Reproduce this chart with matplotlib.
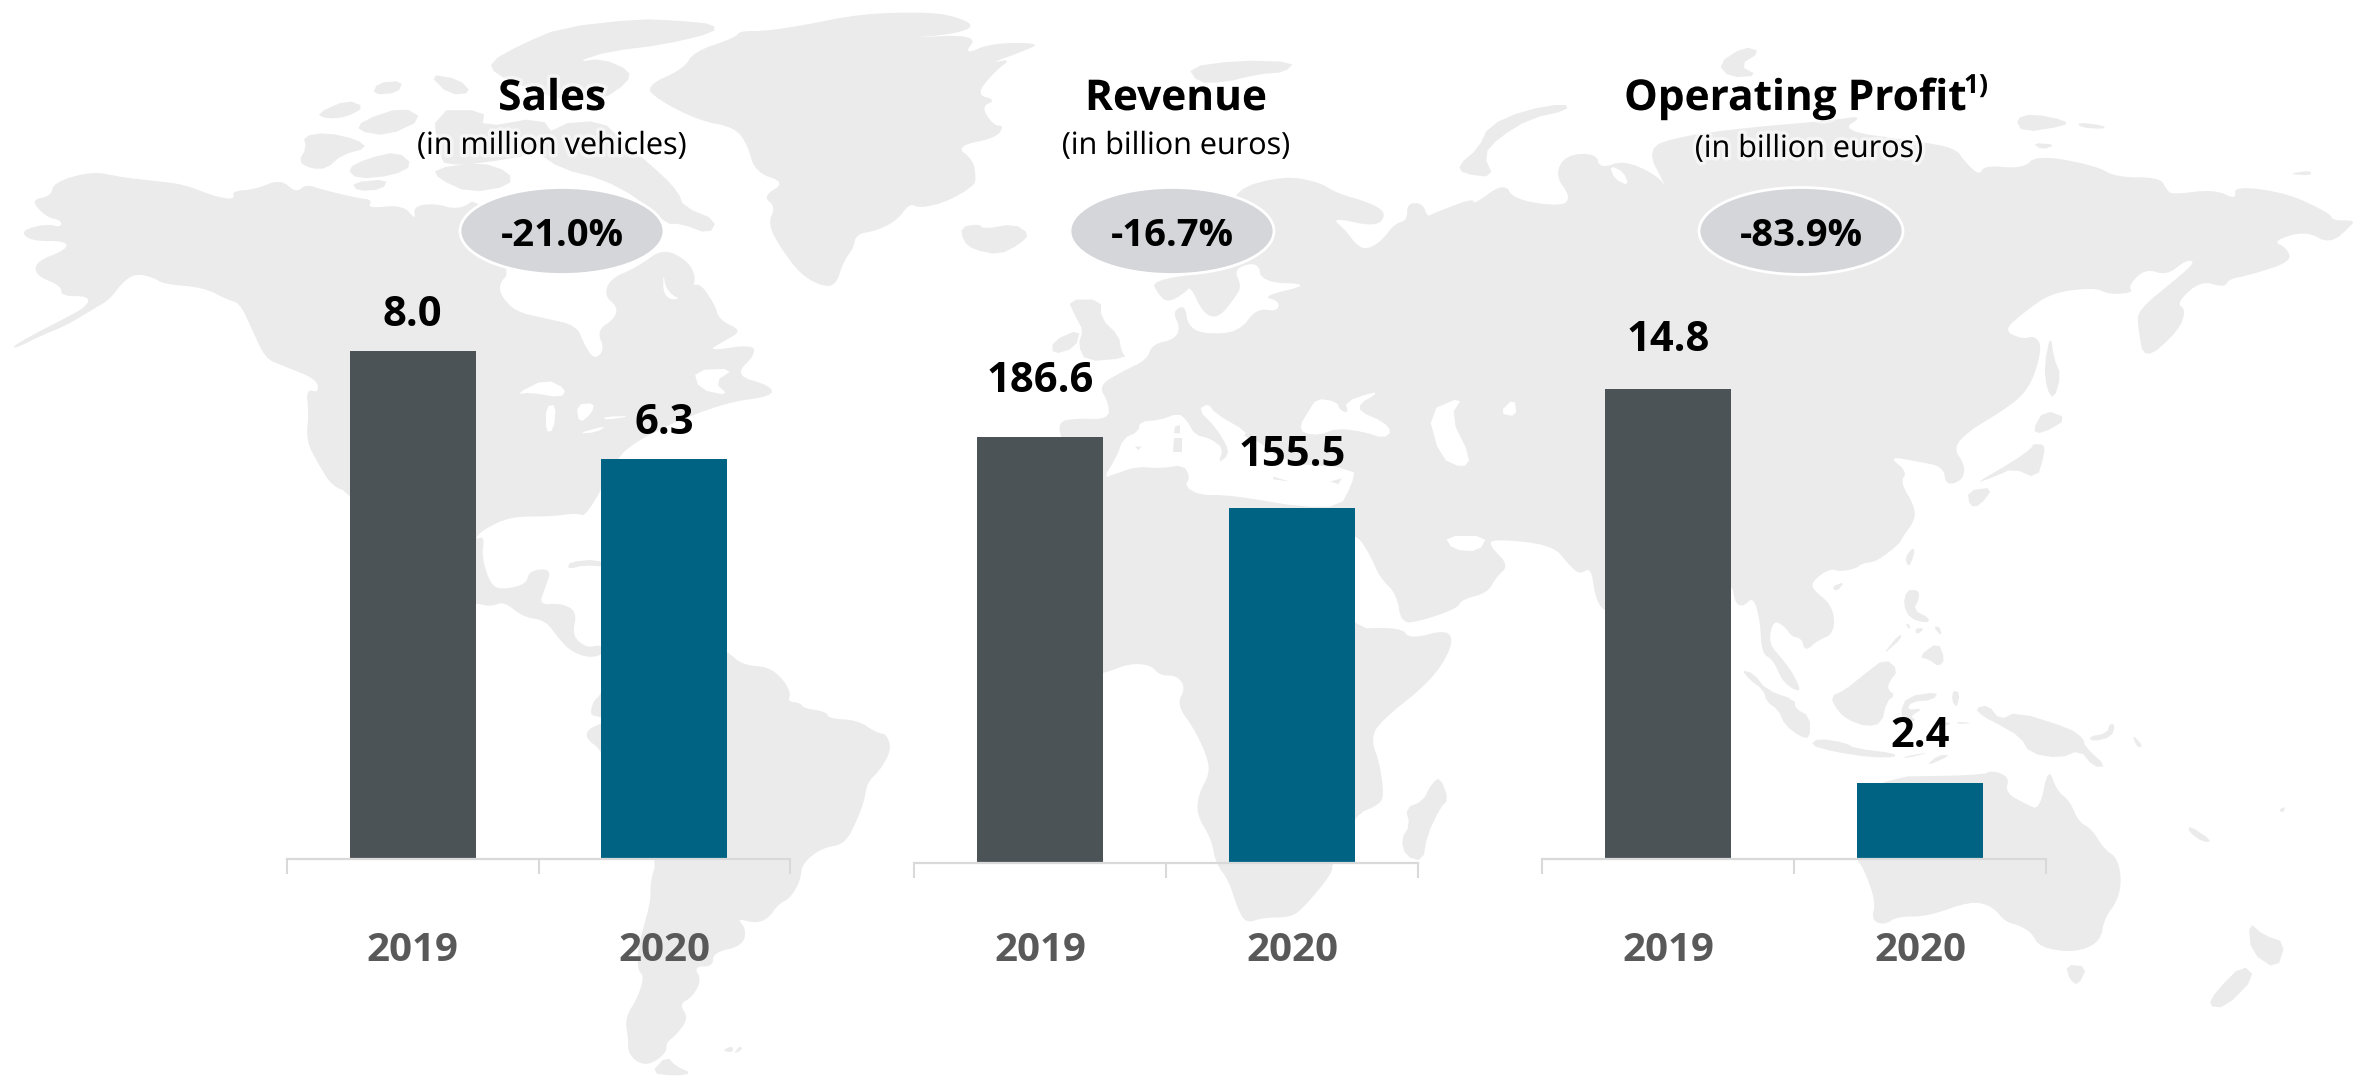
import matplotlib
matplotlib.use("Agg")
import matplotlib.pyplot as plt
import matplotlib.patheffects as pe
from matplotlib.patches import Ellipse, Polygon

W, H = 2353, 1076
FONT = "Open Sans"

# wartosci
years = ["2019", "2020"]
sales = [8.0, 6.3]
revenue = [186.6, 155.5]
profit = [14.8, 2.4]
changes = ["-21.0%", "-16.7%", "-83.9%"]
titles = ["Sales", "Revenue", "Operating Profit"]
subtitles = ["(in million vehicles)", "(in billion euros)", "(in billion euros)"]

GRAY_BAR = "#4c5356"
BLUE_BAR = "#006384"
MAP = "#ebebeb"
AXIS = "#d9d9d9"


# kontury mapy w tle (tylko dekoracja), czytane z powiekszen
def z(x0, y0, sx, sy, pts):
    return [(x0 + x / sx, y0 + y / sy) for x, y in pts]


def z4(pts):
    return z(0, 0, 1.96, 2.904, pts)


def z5(pts):
    return z(0, 536, 1.568, 2.904, pts)


def z6(pts):
    return z(800, 0, 1.96, 2.904, pts)


def z7(pts):
    return z(1600, 0, 2.082, 2.904, pts)


def z8(pts):
    return z(1000, 536, 1.159, 2.904, pts)


def z9(pts):
    return z(1730, 520, 3, 3, pts)


def z10(pts):
    return z(1100, 370, 3, 3, pts)


# wygladzanie rogow konturu
def chaikin(pts, n=1):
    for _ in range(n):
        out = []
        for i in range(len(pts)):
            x1, y1 = pts[i]
            x2, y2 = pts[(i + 1) % len(pts)]
            out.append((0.75 * x1 + 0.25 * x2, 0.75 * y1 + 0.25 * y2))
            out.append((0.25 * x1 + 0.75 * x2, 0.25 * y1 + 0.75 * y2))
        pts = out
    return pts


north_america = z4([
    (100, 570), (105, 530), (180, 497), (240, 515), (300, 525), (360, 535), (420, 570), (460, 580), (455, 555),
    (500, 550), (550, 520), (580, 560), (600, 535), (630, 550), (700, 575), (730, 580), (720, 605), (790, 595),
    (815, 640), (810, 600), (850, 590), (900, 610), (940, 570), (1000, 790), (980, 820), (980, 855), (1010, 905),
    (1070, 925), (1130, 945), (1145, 1000), (1165, 1045), (1185, 1015), (1170, 960), (1205, 925), (1210, 890),
    (1185, 860), (1195, 810), (1250, 775), (1300, 720), (1350, 760), (1365, 810), (1350, 860), (1330, 870),
    (1305, 840), (1300, 790), (1300, 860), (1330, 875), (1365, 810), (1400, 880), (1410, 930), (1455, 960),
    (1420, 990), (1385, 1020), (1475, 1000), (1480, 1030), (1440, 1090), (1510, 1120), (1515, 1150), (1420, 1170),
    (1300, 1240), (1240, 1290), (1210, 1330), (1150, 1500), (1130, 1490), (1080, 1500), (1000, 1500), (945, 1540),
    (930, 1568),
]) + z5([
    (760, 0), (755, 60), (770, 145), (790, 155), (825, 140), (830, 100), (865, 95), (855, 150), (845, 200),
    (880, 195), (905, 220), (897, 290), (920, 325), (942, 315), (950, 340), (925, 355), (895, 335), (875, 295),
    (855, 245), (820, 235), (790, 190), (770, 205), (745, 195), (700, 190),
]) + z4([
    (684, 1430), (650, 1410), (625, 1350), (600, 1280), (605, 1200), (600, 1130), (625, 1140), (620, 1100),
    (550, 1060), (520, 1040), (495, 960), (470, 880), (445, 870), (400, 835), (320, 825), (300, 805), (265, 795),
    (240, 820), (215, 870), (180, 900), (130, 945), (80, 975), (30, 1012), (25, 1005), (80, 960), (120, 930),
    (170, 890), (175, 860), (120, 860), (120, 830), (70, 800), (70, 760), (130, 725), (130, 700), (60, 700),
    (40, 670), (90, 650), (120, 660), (120, 640), (90, 630), (60, 580),
])

arctic_canada = [
    z4([(595, 395), (640, 385), (700, 405), (720, 430), (670, 450), (640, 490), (610, 490), (585, 470), (600, 430)]),
    z4([(680, 490), (720, 460), (780, 440), (810, 480), (770, 510), (700, 520)]),
    z4([(690, 530), (760, 520), (750, 550), (700, 555)]),
    z4([(620, 330), (680, 290), (715, 310), (680, 340), (640, 345)]),
    z4([(710, 350), (790, 310), (830, 345), (760, 395), (700, 380)]),
    z4([(740, 240), (790, 235), (780, 270), (730, 275)]),
    z4([(840, 215), (900, 230), (925, 270), (880, 275)]),
    z4([(850, 320), (950, 320), (945, 370), (1060, 340), (1090, 400), (1040, 450), (960, 470), (900, 480), (860, 470)]),
    z4([(850, 490), (940, 470), (1000, 500), (1000, 540), (920, 560), (860, 520)]),
    z4([(960, 180), (1020, 130), (1100, 80), (1250, 55), (1330, 60), (1400, 70), (1400, 95), (1300, 130), (1190, 150),
        (1130, 180), (1180, 170), (1235, 205), (1230, 240), (1180, 290), (1100, 290), (1040, 260), (970, 215)]),
    z4([(1090, 360), (1180, 350), (1220, 410), (1300, 510), (1330, 560), (1340, 600), (1405, 640), (1390, 680),
        (1335, 650), (1305, 650), (1250, 575), (1180, 520), (1100, 490), (1050, 440)]),
]

greenland = z4([
    (1265, 250), (1340, 200), (1360, 150), (1440, 110), (1450, 90), (1500, 90),
]) + z6([
    (0, 75), (120, 40), (240, 35), (300, 45), (345, 75), (300, 100), (205, 110), (350, 100), (320, 160), (375, 125),
    (470, 125), (445, 145), (370, 185), (415, 170), (380, 210), (345, 275), (385, 290), (355, 310), (380, 365),
    (400, 365), (385, 400), (305, 425), (340, 465), (345, 520), (340, 540), (290, 585), (235, 605), (215, 590),
    (190, 640), (150, 670), (110, 680), (105, 720), (85, 760), (70, 830), (40, 830), (0, 795),
]) + z4([
    (1530, 720), (1505, 650), (1520, 600), (1495, 570), (1540, 530), (1480, 500), (1465, 420), (1440, 370),
    (1370, 350), (1290, 290),
])

eurasia_africa = z6([
    (515, 1290), (505, 1225), (540, 1215), (605, 1218), (605, 1170), (585, 1120), (630, 1080), (680, 1045), (690, 1000),
    (735, 985), (745, 950), (730, 905), (755, 885), (760, 945), (790, 970), (860, 965), (895, 895), (935, 905),
    (940, 875), (905, 860), (1005, 825), (905, 820), (898, 760), (850, 780), (865, 830), (855, 860), (820, 925),
    (790, 910), (765, 830), (755, 850), (720, 880), (700, 850), (690, 815), (800, 790), (850, 640), (850, 550),
    (950, 510), (1020, 530), (1050, 560), (1120, 590), (1150, 620), (1130, 660), (1040, 630), (1070, 670), (1090, 710),
    (1110, 725), (1140, 700), (1165, 650), (1190, 640), (1190, 590), (1220, 590), (1230, 630), (1240, 620), (1320, 575),
    (1320, 595), (1380, 530), (1400, 580), (1495, 600), (1510, 570), (1480, 510), (1500, 450), (1560, 445), (1568, 490),
]) + z7([
    (50, 465), (120, 510), (140, 550), (95, 430), (170, 395), (310, 370), (480, 350), (550, 335), (500, 380),
    (660, 410), (740, 430), (760, 470), (790, 510), (800, 480), (880, 490), (910, 450), (1030, 480), (1075, 515),
    (1165, 515), (1180, 550), (1190, 565), (1280, 550), (1325, 580), (1320, 540), (1430, 560), (1520, 620), (1525, 640),
    (1568, 640), (1568, 650), (1520, 710), (1470, 670), (1400, 700), (1430, 720), (1440, 760), (1350, 800), (1310, 810),
    (1300, 835), (1250, 815), (1200, 880), (1220, 900), (1205, 960), (1133, 1050), (1120, 950), (1120, 900), (1200, 810),
    (1240, 760), (1220, 755), (1180, 800), (1135, 780), (1100, 830), (1110, 850), (1060, 855), (1030, 835), (940, 850),
    (880, 910), (840, 960), (880, 985), (905, 975), (920, 1005), (905, 1090), (880, 1150), (830, 1200), (770, 1250),
    (735, 1300), (760, 1350), (755, 1395), (720, 1410), (715, 1355), (660, 1340), (600, 1325), (640, 1370), (625, 1400),
    (655, 1470),
]) + z9([
    (555, 0), (515, 55), (510, 70), (440, 125), (395, 130), (380, 145), (330, 155), (300, 145), (245, 185), (250, 210),
    (300, 250), (315, 300), (305, 345), (265, 360), (225, 395), (215, 355), (185, 350), (165, 320), (130, 300), (115, 370),
    (160, 420), (195, 470), (215, 520), (160, 490), (130, 420), (95, 400), (90, 300), (70, 230), (40, 260), (15, 250), (5, 185),
]) + z8([
    (800, 100), (720, 220), (700, 220), (690, 180), (685, 90),
    (672, 112), (660, 85), (640, 25), (570, 8), (568, 30), (590, 85), (575, 120), (565, 165), (535, 185), (530, 210),
    (490, 245), (465, 255), (460, 170), (440, 120), (430, 60), (415, 0), (400, 0), (400, 270), (465, 265), (475, 300),
    (520, 270), (525, 320), (500, 420), (440, 540), (430, 590), (440, 660), (445, 750), (440, 780), (411, 810), (385, 950),
    (385, 980), (350, 1085), (335, 1108), (305, 1108), (285, 1125), (275, 1080), (265, 1000), (250, 950), (245, 880),
    (228, 810), (230, 750), (243, 690), (240, 640), (225, 560), (205, 490), (215, 440), (205, 405), (185, 405), (175, 375),
    (150, 370), (120, 400), (100, 400), (100, 100),
])

south_america = z5([
    (1100, 300), (1140, 335), (1165, 375), (1205, 380), (1230, 420), (1240, 460), (1235, 480), (1255, 485), (1260, 500),
    (1295, 510), (1300, 530), (1345, 535), (1375, 572), (1390, 575), (1398, 620), (1380, 680), (1360, 715), (1355, 770),
    (1345, 820), (1325, 895), (1290, 905), (1258, 950), (1255, 1000), (1240, 1050), (1220, 1070), (1205, 1110), (1185, 1125),
    (1155, 1110), (1170, 1140), (1165, 1190), (1118, 1210), (1118, 1250), (1088, 1250), (1100, 1290), (1085, 1340),
    (1065, 1360), (1080, 1400), (1060, 1450), (1045, 1470), (1045, 1500), (1020, 1535), (1000, 1530), (985, 1500),
    (985, 1460), (980, 1400), (1000, 1340), (1010, 1280), (1000, 1260), (1000, 1200), (1010, 1130), (1020, 1060),
    (1020, 1000), (1030, 945), (1000, 800), (942, 620), (920, 590), (920, 565), (940, 545), (960, 535), (940, 525),
    (925, 520), (930, 480), (940, 465), (960, 400), (1000, 300),
])

australia = z8([
    (1000, 700), (1138, 695), (1150, 680), (1170, 700), (1165, 745), (1190, 780), (1205, 795), (1215, 670), (1225, 740),
    (1240, 770), (1250, 830), (1265, 850), (1280, 910), (1295, 935), (1300, 1000), (1295, 1060), (1280, 1110), (1275, 1180),
    (1245, 1210), (1205, 1195), (1195, 1150), (1180, 1130), (1165, 1120), (1150, 1075), (1125, 1060), (1075, 1105),
    (1040, 1105), (1025, 1130), (1010, 1115), (1015, 1060), (1000, 960), (992, 940),
])

islands = [
    z5([(1020, 1560), (1045, 1510), (1060, 1540), (1085, 1560), (1060, 1568)]),
    z5([(1132, 1495), (1148, 1480), (1150, 1500)]),
    z5([(1150, 1505), (1160, 1480), (1165, 1490)]),
    z5([(890, 90), (895, 75), (935, 68), (960, 90), (915, 85), (895, 95)]),
    z6([(315, 660), (350, 650), (360, 665), (420, 650), (450, 680), (430, 710), (390, 740), (340, 725), (320, 700)]),
    z6([(760, 195), (860, 175), (970, 180), (950, 210), (900, 215), (830, 240), (780, 240)]),
    z6([(525, 870), (590, 870), (590, 925), (625, 975), (630, 1020), (640, 1040), (560, 1050), (545, 1000), (555, 960), (540, 920)]),
    z6([(495, 990), (550, 955), (540, 1010), (495, 1030)]),
    z6([(1290, 480), (1330, 430), (1350, 365), (1420, 320), (1500, 300), (1505, 320), (1430, 345), (1370, 400), (1340, 450), (1360, 515), (1300, 505)]),
    z8([(510, 700), (520, 765), (510, 790), (495, 870), (490, 945), (470, 930), (465, 880), (475, 840), (470, 790), (490, 770), (500, 720)]),
    z7([(925, 1190), (975, 1215), (920, 1260), (900, 1250)]),
    z7([(900, 1290), (925, 1290), (925, 1320), (910, 1390), (860, 1360), (820, 1385), (780, 1405), (860, 1340), (900, 1300)]),
    z7([(765, 1425), (820, 1415), (790, 1470), (770, 1470)]),
    z7([(938, 970), (945, 1040), (960, 1090), (945, 1160), (930, 1130), (925, 1060)]),
    z7([(1432, 505), (1480, 495), (1480, 510)]),
    z7([(865, 345), (900, 330), (970, 350), (970, 365), (880, 385)]),
    z7([(995, 355), (1050, 365), (1050, 375), (1000, 370)]),
    z7([(900, 415), (950, 420), (920, 435)]),
    z7([(245, 185), (300, 135), (335, 150), (290, 190), (330, 220), (270, 225)]),
    # Azja poludniowo-wschodnia
    z9([(35, 450), (70, 460), (110, 510), (195, 540), (195, 565), (240, 590), (240, 655), (210, 650), (165, 615), (145, 570), (110, 545), (100, 510), (60, 480)]),
    z9([(465, 415), (505, 450), (475, 490), (475, 510), (495, 525), (470, 545), (455, 610), (410, 620), (355, 600), (325, 575), (300, 530), (345, 510), (400, 465)]),
    z9([(240, 675), (265, 655), (345, 668), (375, 685), (495, 700), (495, 712), (420, 712), (310, 695)]),
    z9([(510, 580), (530, 530), (625, 515), (610, 540), (545, 545), (530, 570), (580, 565), (540, 590), (560, 600), (530, 610)]),
    z9([(530, 210), (565, 210), (568, 235), (550, 270), (600, 295), (590, 310), (540, 295), (520, 255)]),
    z9([(565, 410), (625, 365), (645, 420), (625, 440), (600, 420)]),
    z9([(465, 395), (510, 340), (515, 355), (470, 395)]),
    z9([(525, 310), (540, 315), (540, 330)]),
    z9([(555, 325), (585, 325), (560, 345)]),
    z9([(610, 320), (630, 320), (635, 350)]),
    z9([(525, 115), (545, 85), (555, 90), (545, 125), (535, 140)]),
    z9([(305, 200), (345, 185), (320, 215)]),
    z9([(670, 510), (690, 520), (680, 565), (665, 540)]),
    z9([(735, 565), (775, 555), (810, 600), (860, 575), (1020, 625), (1060, 655), (1065, 680), (1130, 740), (1090, 740), (1050, 690), (990, 715), (900, 700), (870, 650), (800, 610), (760, 590)]),
    z9([(1075, 650), (1130, 640), (1140, 610), (1155, 615), (1145, 650), (1090, 665)]),
    z9([(520, 710), (605, 695), (530, 715)]),
    z9([(585, 740), (625, 705), (665, 705)]),
    z9([(640, 605), (665, 610), (645, 618)]),
    z9([(680, 605), (730, 610), (685, 612)]),
    z8([(1312, 575), (1325, 610), (1318, 615)]),
    z8([(1235, 1245), (1260, 1250), (1250, 1305), (1240, 1290)]),
    z8([(1447, 1120), (1465, 1160), (1490, 1180), (1480, 1260), (1450, 1210)]),
    z8([(1440, 1245), (1455, 1280), (1420, 1370), (1400, 1365), (1410, 1320)]),
    z8([(1378, 840), (1405, 885), (1395, 890), (1378, 860)]),
    z8([(1490, 785), (1487, 805), (1482, 795)]),
]

# morza i jeziora rysowane na bialo na ladzie
waters = [
    z4([(1010, 1145), (1070, 1100), (1110, 1130), (1100, 1155), (1040, 1140)]),
    z4([(1070, 1180), (1090, 1175), (1085, 1250), (1070, 1255)]),
    z4([(1130, 1175), (1165, 1170), (1160, 1200), (1135, 1230)]),
    z4([(1130, 1260), (1190, 1235), (1170, 1255)]),
    z4([(1185, 1210), (1240, 1208), (1185, 1220)]),
    z4([(1360, 1075), (1440, 1070), (1400, 1110), (1430, 1150), (1370, 1130)]),
    z10([(10, 325), (50, 260), (70, 205), (115, 185), (120, 155), (180, 150), (235, 130), (260, 150), (285, 195), (330, 205),
         (370, 235), (355, 280), (385, 255), (380, 225), (345, 170), (295, 120), (325, 100), (345, 130), (440, 185), (430, 200),
         (470, 210), (560, 280), (765, 295), (755, 345), (720, 410), (600, 410), (450, 385), (370, 375), (300, 375), (255, 350),
         (270, 320), (250, 285), (180, 295), (110, 290), (50, 310)]),
    z10([(600, 165), (625, 125), (650, 85), (710, 95), (720, 120), (745, 130), (735, 95), (825, 65), (825, 75), (780, 100),
         (780, 125), (850, 155), (875, 185), (850, 205), (790, 185), (710, 175), (660, 195), (610, 190)]),
    z6([(1230, 1195), (1300, 1150), (1275, 1210), (1315, 1330), (1300, 1360), (1255, 1330)]),
    z6([(1370, 1200), (1400, 1155), (1405, 1210)]),
    z8([(515, 0), (565, 0), (555, 45), (525, 40)]),
    z7([(20, 480), (50, 500), (60, 540), (30, 520)]),
]

# wyspy na Morzu Srodziemnym, na wierzchu bialego
med_islands = [
    z10([(225, 170), (240, 165), (240, 190), (222, 190)]),
    z10([(222, 205), (245, 205), (245, 245), (220, 245)]),
    z10([(105, 230), (125, 230), (115, 240)]),
    z10([(520, 320), (570, 335), (520, 328)]),
    z10([(690, 335), (725, 325), (715, 342)]),
]


def ax_box(x0, x1, y_top, y_base):
    return [x0 / W, 1 - y_base / H, (x1 - x0) / W, (y_base - y_top) / H]


fig = plt.figure(figsize=(W / 100, H / 100), dpi=100, facecolor="white")
plt.rcParams["font.family"] = [FONT, "DejaVu Sans"]

# tlo w pikselach obrazka
bg = fig.add_axes([0, 0, 1, 1], zorder=0)
bg.set_xlim(0, W)
bg.set_ylim(H, 0)
bg.axis("off")
for poly in [north_america, greenland, eurasia_africa, south_america, australia]:
    bg.add_patch(Polygon(chaikin(poly, 2), closed=True, fc=MAP, ec="none"))
for poly in arctic_canada + islands:
    bg.add_patch(Polygon(chaikin(poly, 1), closed=True, fc=MAP, ec="none"))
for poly in waters:
    bg.add_patch(Polygon(chaikin(poly, 1), closed=True, fc="white", ec="none"))
for poly in med_islands:
    bg.add_patch(Polygon(poly, closed=True, fc=MAP, ec="none"))

# panele ze slupkami
panels = [
    (sales, 287, 790, 351, 859, [25, 25]),
    (revenue, 914, 1418, 437, 863, [45, 42]),
    (profit, 1542, 2046, 389, 859, [38, 36]),
]
for values, x0, x1, y_top, y_base, offs in panels:
    ax = fig.add_axes(ax_box(x0, x1, y_top, y_base), zorder=1)
    ax.patch.set_alpha(0)
    ax.bar([0, 1], values, width=0.5, color=[GRAY_BAR, BLUE_BAR])
    ax.set_xlim(-0.5, 1.5)
    ax.set_ylim(0, values[0])
    ax.set_yticks([])
    for s in ["top", "left", "right"]:
        ax.spines[s].set_visible(False)
    ax.spines["bottom"].set_color(AXIS)
    ax.spines["bottom"].set_linewidth(1.6)
    ax.set_xticks([-0.5, 0.5, 1.5])
    ax.set_xticklabels([])
    ax.tick_params(axis="x", which="major", length=10.5, width=1.5, color=AXIS)
    ax.set_xticks([0, 1], minor=True)
    ax.set_xticklabels(years, minor=True, fontsize=29, fontweight="bold", color="#595959")
    ax.tick_params(axis="x", which="minor", length=0, pad=(932 - y_base) * 0.72 - 1)
    for i, v in enumerate(values):
        ax.annotate(f"{v:.1f}", (i, v), xytext=(0, offs[i]), textcoords="offset pixels", ha="center",
                    va="baseline", fontsize=30, fontweight="bold", color="black", annotation_clip=False)

# owale ze zmiana procentowa
oval_x = [562, 1172, 1801]
for cx, label in zip(oval_x, changes):
    bg.add_patch(Ellipse((cx, 231), 204, 87, fc="#d4d6da", ec="white", lw=2))
    bg.text(cx, 231, label, ha="center", va="center_baseline", fontsize=27.5, fontweight="bold", color="black")

# tytuly
glow = [pe.withStroke(linewidth=5, foreground="white", alpha=0.55)]
title_x = [552, 1176, 1795]
sub_x = [552, 1176, 1809]
sub_y = [146, 146, 149]
for i in range(3):
    bg.text(title_x[i], 110, titles[i], ha="center", va="baseline", fontsize=30.5, fontweight="bold",
            color="black", path_effects=glow)
    bg.text(sub_x[i], sub_y[i], subtitles[i], ha="center", va="center", fontsize=22, color="black", path_effects=glow)
bg.text(1964, 93, "1)", ha="left", va="baseline", fontsize=19, fontweight="bold", color="black", path_effects=glow)

fig.savefig("out.png", dpi=100)
plt.close(fig)
